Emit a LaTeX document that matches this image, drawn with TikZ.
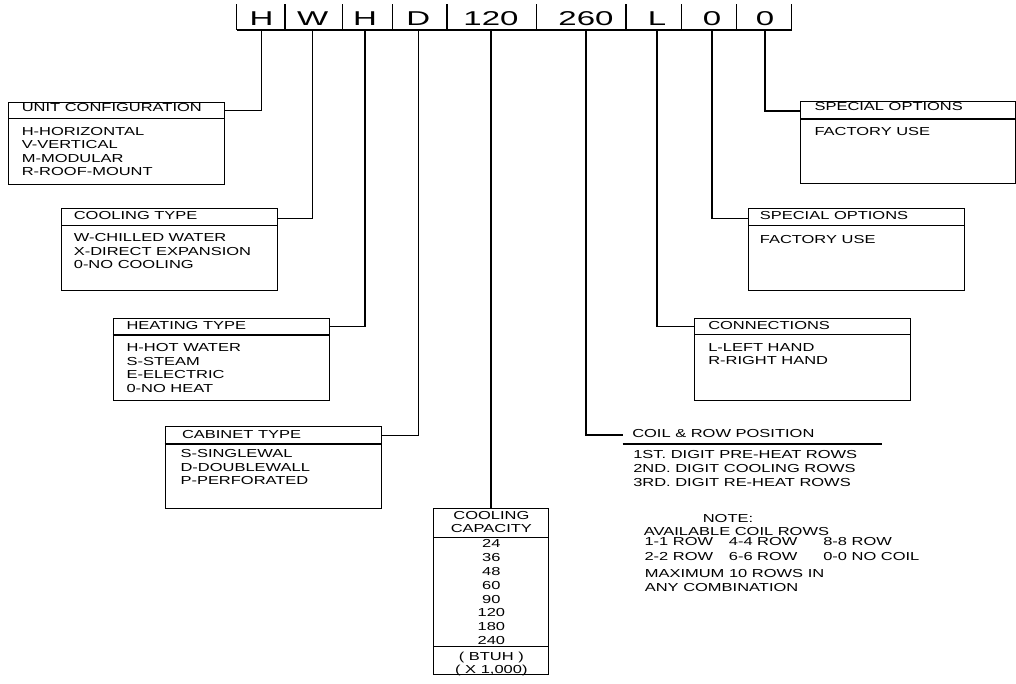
\documentclass[tikz,border=0pt]{standalone}
\usepackage{fontspec}
\setmainfont{Liberation Sans}[FakeStretch=1.42]
\newfontfamily\codefont{Liberation Sans}[FakeStretch=1.65]
\usepackage{tikz}
\usetikzlibrary{positioning,calc}

\tikzset{
  optbox/.style={draw, anchor=north west, inner sep=0, minimum width=216, minimum height=82},
  ttl/.style={anchor=west, inner sep=0, font=\fontsize{11.6}{13.4}\selectfont},
  body/.style={anchor=north west, inner sep=0, align=left, font=\fontsize{11.6}{13.4}\selectfont},
  code/.style={anchor=south, inner sep=0, minimum height=22.4, font=\codefont\fontsize{20}{20}\selectfont},
}

\begin{document}
\begin{tikzpicture}[x=1pt, y=-1pt, line width=1.1pt]
  \useasboundingbox (0,0) rectangle (1016,683);

  % model number row
  \draw (236.7,30) -- (791.7,30);
  \foreach \x in {236.7,285,342.7,392.7,447,536.7,626,681.7,736.7,791.7}
    \draw (\x,4) -- (\x,30);
  \node[code] (c1) at (261.5,30) {H};
  \node[code] (c2) at (312.7,30) {W};
  \node[code] (c3) at (365,30) {H};
  \node[code] (c4) at (418.3,30) {D};
  \node[code] (c5) at (491,30) {120};
  \node[code] (c6) at (586,30) {260};
  \node[code] (c7) at (657,30) {L};
  \node[code] (c8) at (712,30) {0};
  \node[code] (c9) at (765,30) {0};

  % left boxes
  \node[optbox] (unit) at (8.3,101.7) {};
  \draw ([yshift=-16.8pt]unit.north west) -- ([yshift=-16.8pt]unit.north east);
  \node[ttl] (unitT) at ([shift={(13pt,-6pt)}]unit.north west) {UNIT CONFIGURATION};
  \node[body] (unitB) at ([shift={(13pt,-25pt)}]unit.north west)
    {H-HORIZONTAL\\V-VERTICAL\\M-MODULAR\\R-ROOF-MOUNT};

  \node[optbox] (cool) at (61,208.3) {};
  \draw ([yshift=-17.4pt]cool.north west) -- ([yshift=-17.4pt]cool.north east);
  \node[ttl] (coolT) at ([shift={(12.3pt,-7.5pt)}]cool.north west) {COOLING TYPE};
  \node[body] (coolB) at ([shift={(12.3pt,-25pt)}]cool.north west)
    {W-CHILLED WATER\\X-DIRECT EXPANSION\\0-NO COOLING};

  \node[optbox] (heat) at (112.7,317.7) {};
  \draw ([yshift=-17.3pt]heat.north west) -- ([yshift=-17.3pt]heat.north east);
  \node[ttl] (heatT) at ([shift={(13.3pt,-7.8pt)}]heat.north west) {HEATING TYPE};
  \node[body] (heatB) at ([shift={(13.3pt,-25.5pt)}]heat.north west)
    {H-HOT WATER\\S-STEAM\\E-ELECTRIC\\0-NO HEAT};

  \node[optbox] (cab) at (164.5,426) {};
  \draw ([yshift=-18pt]cab.north west) -- ([yshift=-18pt]cab.north east);
  \node[ttl] (cabT) at ([shift={(17pt,-8pt)}]cab.north west) {CABINET TYPE};
  \node[body] (cabB) at ([shift={(15.5pt,-23.2pt)}]cab.north west)
    {S-SINGLEWAL\\D-DOUBLEWALL\\P-PERFORATED};

  % cooling capacity
  \node[draw, anchor=north west, inner sep=0, minimum width=115, minimum height=165.7] (cap) at (433.3,508.3) {};
  \draw ([yshift=-29.4pt]cap.north west) -- ([yshift=-29.4pt]cap.north east);
  \draw ([yshift=-138.4pt]cap.north west) -- ([yshift=-138.4pt]cap.north east);
  \node[body, anchor=north, align=center] (capT) at ([yshift=-2.6pt]cap.north) {COOLING\\CAPACITY};
  \node[body, anchor=north, align=center, font=\fontsize{11.6}{13.8}\selectfont] (capB)
    at ([yshift=-30.9pt]cap.north) {24\\36\\48\\60\\90\\120\\180\\240};
  \node[body, anchor=north, align=center, font=\fontsize{11.6}{12.6}\selectfont] (capU)
    at ([yshift=-143.3pt]cap.north) {( BTUH )\\( X 1,000)};

  % right boxes
  \node[optbox, minimum width=215] (spec1) at (800,101) {};
  \draw ([yshift=-18pt]spec1.north west) -- ([yshift=-18pt]spec1.north east);
  \node[ttl] (spec1T) at ([shift={(14pt,-5.8pt)}]spec1.north west) {SPECIAL OPTIONS};
  \node[body] (spec1B) at ([shift={(14pt,-25.5pt)}]spec1.north west) {FACTORY USE};

  \node[optbox] (spec2) at (748.3,208.3) {};
  \draw ([yshift=-17.4pt]spec2.north west) -- ([yshift=-17.4pt]spec2.north east);
  \node[ttl] (spec2T) at ([shift={(11pt,-7.5pt)}]spec2.north west) {SPECIAL OPTIONS};
  \node[body] (spec2B) at ([shift={(11pt,-26.6pt)}]spec2.north west) {FACTORY USE};

  \node[optbox] (conn) at (694.3,317.7) {};
  \draw ([yshift=-16.6pt]conn.north west) -- ([yshift=-16.6pt]conn.north east);
  \node[ttl] (connT) at ([shift={(13.4pt,-7.3pt)}]conn.north west) {CONNECTIONS};
  \node[body] (connB) at ([shift={(13.4pt,-24.8pt)}]conn.north west) {L-LEFT HAND\\R-RIGHT HAND};

  % coil and row position
  \node[ttl] (coil) at (631.7,433) {COIL \& ROW POSITION};
  \draw ($(coil.west)+(-9,11)$) -- ++(259,0);
  \node[body, font=\fontsize{11.6}{14}\selectfont] (coilB) at (632.7,450.2)
    {1ST. DIGIT PRE-HEAT ROWS\\2ND. DIGIT COOLING ROWS\\3RD. DIGIT RE-HEAT ROWS};
  \node[ttl, anchor=center] (note) at (728,518.3) {NOTE:};
  \node[ttl] (avail) at (643.3,531.7) {AVAILABLE COIL ROWS};
  \node[ttl] (r1) at (644,541.7) {1-1 ROW};
  \node[ttl] (r4) at (728.3,541.7) {4-4 ROW};
  \node[ttl] (r8) at (822.7,541.7) {8-8 ROW};
  \node[ttl] (r2) at (644,556.7) {2-2 ROW};
  \node[ttl] (r6) at (728.3,556.7) {6-6 ROW};
  \node[ttl] (r0) at (822.7,556.7) {0-0 NO COIL};
  \node[body] (maxi) at (644.3,569.2) {MAXIMUM 10 ROWS IN\\ANY COMBINATION};

  % connectors
  \draw (c1.south) |- ([yshift=-9pt]unit.north east);
  \draw (c2.south) |- ([yshift=-10pt]cool.north east);
  \draw (c3.south) |- ([yshift=-9pt]heat.north east);
  \draw (c4.south) |- ([yshift=-9.5pt]cab.north east);
  \draw (c5.south) -- (c5.south |- cap.north);
  \draw (c6.south) |- ($(coil.west)+(-9,2)$);
  \draw (c7.south) |- ([yshift=-9pt]conn.north west);
  \draw (c8.south) |- ([yshift=-10pt]spec2.north west);
  \draw (c9.south) |- ([yshift=-10pt]spec1.north west);
\end{tikzpicture}
\end{document}
